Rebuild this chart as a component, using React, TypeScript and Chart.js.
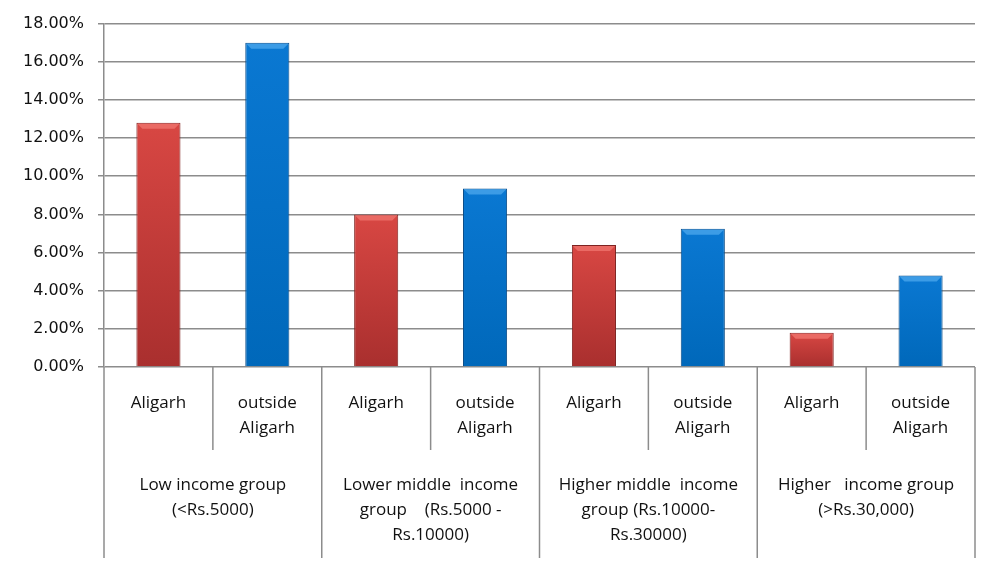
import React, { useEffect, useRef } from 'react';
import { Chart, registerables } from 'chart.js';

Chart.register(...registerables);

// ---- data ----
const subCategories: (string | string[])[] = [
  'Aligarh', ['outside', 'Aligarh'],
  'Aligarh', ['outside', 'Aligarh'],
  'Aligarh', ['outside', 'Aligarh'],
  'Aligarh', ['outside', 'Aligarh'],
];
const groupLabels: string[][] = [
  ['Low income group', '(<Rs.5000)'],
  ['Lower middle  income', 'group    (Rs.5000 -', 'Rs.10000)'],
  ['Higher middle  income', 'group (Rs.10000-', 'Rs.30000)'],
  ['Higher   income group', '(>Rs.30,000)'],
];
const aligarhValues = [12.8, 8.0, 6.4, 1.8];
const outsideValues = [17.0, 9.35, 7.25, 4.8];
const yMin = 0;
const yMax = 18;
const yStep = 2;

const GRID = '#8c8c8c';
const TEXT = '#111111';
const CAT_FONT = '"Open Sans", "Liberation Sans", sans-serif';

const barValues: number[] = [];
aligarhValues.forEach((v, i) => { barValues.push(v, outsideValues[i]); });

const RED = { light: '#d84743', dark: '#a92f2e', bevel: '#ea6a64', border: '#7e2321' };
const BLUE = { light: '#0a78d2', dark: '#0068ba', bevel: '#3c9ce6', border: '#0a4c88' };

const pal = (i: number) => (i % 2 === 0 ? RED : BLUE);

const fill = (c: any) => {
  if (c.type !== 'data') return '#999';
  const p = pal(c.dataIndex);
  const chart = c.chart;
  const ys = chart.scales && chart.scales.y;
  if (!ys || c.raw == null) return p.dark;
  const top = ys.getPixelForValue(c.raw as number);
  const bottom = ys.getPixelForValue(0);
  if (!isFinite(top) || !isFinite(bottom) || top === bottom) return p.dark;
  const g = chart.ctx.createLinearGradient(0, top, 0, bottom);
  g.addColorStop(0, p.light);
  g.addColorStop(1, p.dark);
  return g;
};

const bevelPlugin = {
  id: 'bevel',
  afterDatasetsDraw(chart: any) {
    const meta = chart.getDatasetMeta(0);
    const ctx = chart.ctx;
    ctx.save();
    meta.data.forEach((el: any, i: number) => {
      const { x, y, width } = el.getProps(['x', 'y', 'width'], true);
      const l = x - width / 2 + 1;
      const r = x + width / 2 - 1;
      const p = pal(i);
      ctx.fillStyle = p.bevel;
      ctx.beginPath();
      ctx.moveTo(l, y + 1);
      ctx.lineTo(r, y + 1);
      ctx.lineTo(r - 5, y + 6);
      ctx.lineTo(l + 5, y + 6);
      ctx.closePath();
      ctx.fill();
    });
    ctx.restore();
  },
};

const groupPlugin = {
  id: 'groups',
  afterDraw(chart: any) {
    const { ctx, chartArea } = chart;
    const x = chart.scales.x;
    const n = subCategories.length;
    const base = chartArea.bottom;
    const half = (x.getPixelForValue(1) - x.getPixelForValue(0)) / 2;
    ctx.save();
    ctx.strokeStyle = GRID;
    ctx.lineWidth = 1.5;
    for (let i = 0; i <= n; i++) {
      const px = i < n ? x.getPixelForValue(i) - half : x.getPixelForValue(n - 1) + half;
      const isGroup = i % 2 === 0;
      ctx.beginPath();
      ctx.moveTo(px, base);
      ctx.lineTo(px, base + (isGroup ? 191 : 83));
      ctx.stroke();
    }
    ctx.font = '17px ' + CAT_FONT;
    ctx.fillStyle = TEXT;
    ctx.textAlign = 'center';
    ctx.textBaseline = 'alphabetic';
    groupLabels.forEach((lines, g) => {
      const cx = (x.getPixelForValue(2 * g) + x.getPixelForValue(2 * g + 1)) / 2;
      lines.forEach((line, k) => ctx.fillText(line, cx, base + 123 + k * 25));
    });
    ctx.restore();
  },
};

export default function App() {
  const ref = useRef<HTMLCanvasElement | null>(null);
  useEffect(() => {
    document.body.style.margin = '0';
    if (!ref.current) return;
    const chart = new Chart(ref.current, {
      type: 'bar',
      data: {
        labels: subCategories as any,
        datasets: [
          {
            data: barValues,
            backgroundColor: fill as any,
            borderColor: barValues.map((_, i) => pal(i).border),
            borderWidth: 1,
            barPercentage: 0.405,
            categoryPercentage: 1,
          },
        ],
      },
      options: {
        animation: false,
        responsive: false,
        maintainAspectRatio: false,
        devicePixelRatio: 1,
        layout: { padding: { left: 0, right: 25, top: 23, bottom: 0 } },
        plugins: { legend: { display: false }, tooltip: { enabled: false }, title: { display: false } },
        scales: {
          x: {
            offset: true,
            grid: { display: false },
            border: { display: false },
            ticks: {
              autoSkip: false,
              maxRotation: 0,
              minRotation: 0,
              padding: 16,
              color: TEXT,
              font: { family: CAT_FONT, size: 17, lineHeight: 25 / 17 },
            },
            afterFit: (s: any) => { s.height = 204; },
          },
          y: {
            min: yMin,
            max: yMax,
            grid: { color: GRID, lineWidth: 1.5, tickLength: 6 },
            border: { display: true, color: GRID, width: 1.5 },
            ticks: {
              stepSize: yStep,
              padding: 14,
              color: TEXT,
              font: { family: '"DejaVu Sans", Verdana, sans-serif', size: 16 },
              callback: (v: any) => Number(v).toFixed(2) + '%',
            },
            afterFit: (s: any) => { s.width = 104; },
          },
        },
      },
      plugins: [bevelPlugin, groupPlugin],
    });
    return () => chart.destroy();
  }, []);
  return (
    <div style={{ position: 'absolute', left: 0, top: 0, width: 1000, height: 571, background: '#fff' }}>
      <canvas ref={ref} width={1000} height={571} style={{ width: 1000, height: 571, display: 'block' }} />
    </div>
  );
}
